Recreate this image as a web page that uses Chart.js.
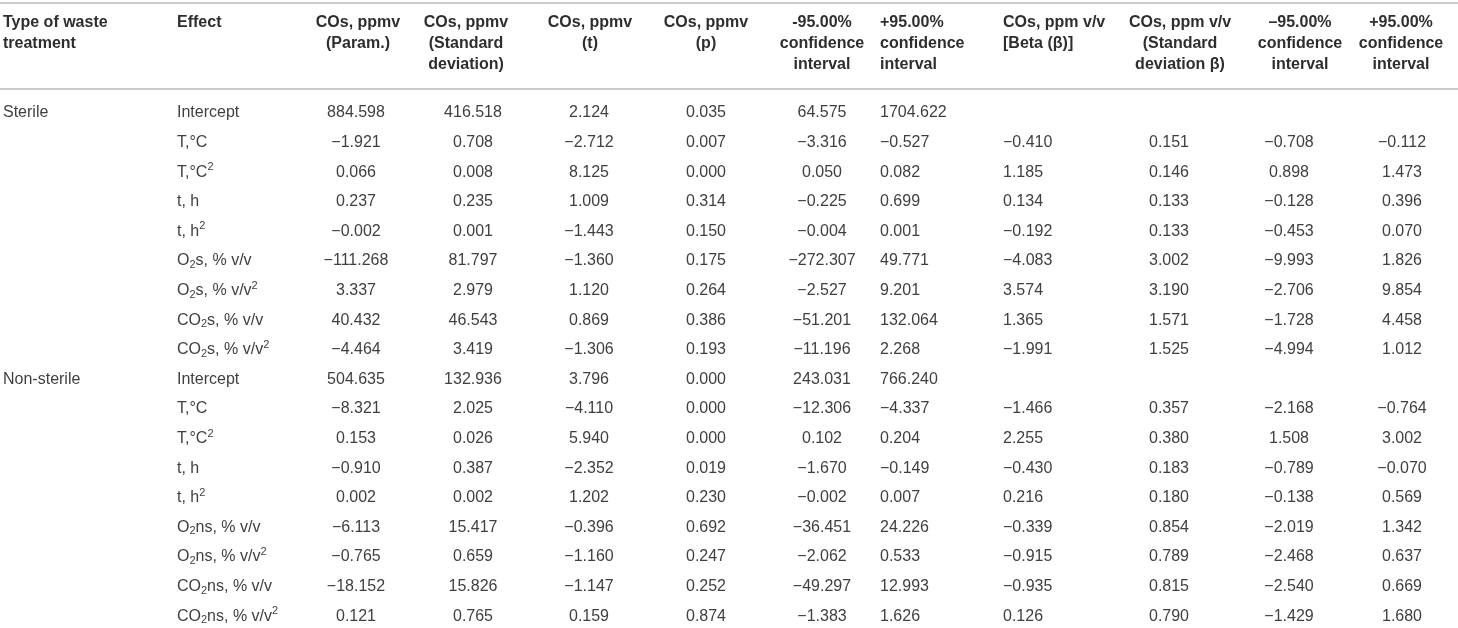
<!DOCTYPE html>
<html>
<head>
<meta charset="utf-8">
<title>CO regression table</title>
<script src="https://cdn.jsdelivr.net/npm/chart.js@4.4.1/dist/chart.umd.min.js"></script>
<style>
  html, body { margin: 0; padding: 0; background: #fff; }
  #wrap { width: 1458px; height: 628px; position: relative; }
</style>
</head>
<body>
<div id="wrap"><canvas id="tableChart"></canvas></div>
<script>
// Table content: one small array per column, 18 rows (9 sterile + 9 non-sterile)
const groups = ["Sterile", "Non-sterile"];
const groupStartRow = [0, 9];

// ^x = superscript, _x = subscript
const effects = [
  "Intercept", "T,°C", "T,°C^2", "t, h", "t, h^2",
  "O_2s, % v/v", "O_2s, % v/v^2", "CO_2s, % v/v", "CO_2s, % v/v^2",
  "Intercept", "T,°C", "T,°C^2", "t, h", "t, h^2",
  "O_2ns, % v/v", "O_2ns, % v/v^2", "CO_2ns, % v/v", "CO_2ns, % v/v^2"
];

const param    = [884.598, -1.921, 0.066, 0.237, -0.002, -111.268, 3.337, 40.432, -4.464,
                  504.635, -8.321, 0.153, -0.910, 0.002, -6.113, -0.765, -18.152, 0.121];
const stdDev   = [416.518, 0.708, 0.008, 0.235, 0.001, 81.797, 2.979, 46.543, 3.419,
                  132.936, 2.025, 0.026, 0.387, 0.002, 15.417, 0.659, 15.826, 0.765];
const tValue   = [2.124, -2.712, 8.125, 1.009, -1.443, -1.360, 1.120, 0.869, -1.306,
                  3.796, -4.110, 5.940, -2.352, 1.202, -0.396, -1.160, -1.147, 0.159];
const pValue   = [0.035, 0.007, 0.000, 0.314, 0.150, 0.175, 0.264, 0.386, 0.193,
                  0.000, 0.000, 0.000, 0.019, 0.230, 0.692, 0.247, 0.252, 0.874];
const ciLow    = [64.575, -3.316, 0.050, -0.225, -0.004, -272.307, -2.527, -51.201, -11.196,
                  243.031, -12.306, 0.102, -1.670, -0.002, -36.451, -2.062, -49.297, -1.383];
const ciHigh   = [1704.622, -0.527, 0.082, 0.699, 0.001, 49.771, 9.201, 132.064, 2.268,
                  766.240, -4.337, 0.204, -0.149, 0.007, 24.226, 0.533, 12.993, 1.626];
const beta     = [null, -0.410, 1.185, 0.134, -0.192, -4.083, 3.574, 1.365, -1.991,
                  null, -1.466, 2.255, -0.430, 0.216, -0.339, -0.915, -0.935, 0.126];
const betaStd  = [null, 0.151, 0.146, 0.133, 0.133, 3.002, 3.190, 1.571, 1.525,
                  null, 0.357, 0.380, 0.183, 0.180, 0.854, 0.789, 0.815, 0.790];
const betaLow  = [null, -0.708, 0.898, -0.128, -0.453, -9.993, -2.706, -1.728, -4.994,
                  null, -2.168, 1.508, -0.789, -0.138, -2.019, -2.468, -2.540, -1.429];
const betaHigh = [null, -0.112, 1.473, 0.396, 0.070, 1.826, 9.854, 4.458, 1.012,
                  null, -0.764, 3.002, -0.070, 0.569, 1.342, 0.637, 0.669, 1.680];

const headers = [
  ["Type of waste", "treatment"],
  ["Effect"],
  ["COs, ppmv", "(Param.)"],
  ["COs, ppmv", "(Standard", "deviation)"],
  ["COs, ppmv", "(t)"],
  ["COs, ppmv", "(p)"],
  ["-95.00%", "confidence", "interval"],
  ["+95.00%", "confidence", "interval"],
  ["COs, ppm v/v", "[Beta (β)]"],
  ["COs, ppm v/v", "(Standard", "deviation β)"],
  ["\u201395.00%", "confidence", "interval"],
  ["+95.00%", "confidence", "interval"]
];

// layout: column anchors in page px, rows in row units
const ROW_H = 29.6;
const FIRST_ROW_Y = 113;
const PAGE_H = 628;
const colX    = [3, 177, 356, 473, 589, 706, 822, 880, 1003, 1169, 1289, 1402];
const headX   = [3, 177, 358, 466, 590, 706, 822, 880, 1003, 1180, 1300, 1401];
const colAlign = ["left", "left", "center", "center", "center", "center", "center",
                  "left", "left", "center", "center", "center"];
const headerRowY = [-3.07, -2.35, -1.62];
const ruleRowY = [-3.72, -0.81];

const fmt = v => v.toFixed(3).replace("-", "\u2212");

const valueCols = [param, stdDev, tValue, pValue, ciLow, ciHigh, beta, betaStd, betaLow, betaHigh];

function cellPoints(colIndex) {
  const x = colX[colIndex];
  if (colIndex === 0) {
    return groups.map((g, i) => ({ x, y: groupStartRow[i], text: g }));
  }
  if (colIndex === 1) {
    return effects.map((e, i) => ({ x, y: i, text: e }));
  }
  const arr = valueCols[colIndex - 2];
  const pts = [];
  arr.forEach((v, i) => { if (v !== null) pts.push({ x, y: i, text: fmt(v) }); });
  return pts;
}

const datasets = colX.map((_, c) => ({
  label: headers[c].join(" "),
  data: cellPoints(c),
  align: colAlign[c],
  pointRadius: 0,
  pointHoverRadius: 0,
  showLine: false
}));

const BODY_FONT = '16px "Liberation Sans", Arial, Helvetica, sans-serif';
const SMALL_FONT = '11px "Liberation Sans", Arial, Helvetica, sans-serif';
const HEAD_FONT = 'bold 16px "Liberation Sans", Arial, Helvetica, sans-serif';

// split "O_2s, % v/v^2" into runs with sub/sup flags
function parseRich(str) {
  const runs = [];
  let buf = "";
  for (let i = 0; i < str.length; i++) {
    const ch = str[i];
    if ((ch === "^" || ch === "_") && i + 1 < str.length) {
      if (buf) { runs.push({ t: buf, mode: "n" }); buf = ""; }
      runs.push({ t: str[i + 1], mode: ch === "^" ? "sup" : "sub" });
      i++;
    } else {
      buf += ch;
    }
  }
  if (buf) runs.push({ t: buf, mode: "n" });
  return runs;
}

function drawRich(ctx, str, x, y, align) {
  const runs = parseRich(str);
  let total = 0;
  runs.forEach(r => {
    ctx.font = r.mode === "n" ? BODY_FONT : SMALL_FONT;
    r.w = ctx.measureText(r.t).width;
    total += r.w;
  });
  let cx = align === "center" ? x - total / 2 : x;
  ctx.textAlign = "left";
  runs.forEach(r => {
    ctx.font = r.mode === "n" ? BODY_FONT : SMALL_FONT;
    const dy = r.mode === "sup" ? -5 : r.mode === "sub" ? 4 : 0;
    ctx.fillText(r.t, cx, y + dy);
    cx += r.w;
  });
}

const tablePlugin = {
  id: "tablePlugin",
  afterDatasetsDraw(chart) {
    const ctx = chart.ctx;
    const xs = chart.scales.x, ys = chart.scales.y;
    ctx.save();

    // horizontal rules
    ctx.strokeStyle = "#cccccc";
    ctx.lineWidth = 2;
    ruleRowY.forEach(r => {
      const y = ys.getPixelForValue(r);
      ctx.beginPath();
      ctx.moveTo(chart.chartArea.left, y);
      ctx.lineTo(chart.chartArea.right, y);
      ctx.stroke();
    });

    // header
    ctx.fillStyle = "#2e2e2e";
    ctx.font = HEAD_FONT;
    ctx.textBaseline = "middle";
    headers.forEach((lines, c) => {
      ctx.textAlign = colAlign[c];
      const x = xs.getPixelForValue(headX[c]);
      lines.forEach((line, k) => {
        ctx.fillText(line, x, ys.getPixelForValue(headerRowY[k]));
      });
    });

    // body cells at the positions the scatter elements got from the scales
    ctx.fillStyle = "#3f3f3f";
    chart.data.datasets.forEach((ds, di) => {
      const meta = chart.getDatasetMeta(di);
      meta.data.forEach((el, i) => {
        drawRich(ctx, ds.data[i].text, el.x, el.y, ds.align);
      });
    });
    ctx.restore();
  }
};

new Chart(document.getElementById("tableChart"), {
  type: "scatter",
  data: { datasets },
  options: {
    responsive: true,
    maintainAspectRatio: false,
    animation: false,
    layout: { padding: 0 },
    scales: {
      x: { type: "linear", display: false, min: 0, max: 1458 },
      y: {
        type: "linear", display: false, reverse: true,
        min: -FIRST_ROW_Y / ROW_H,
        max: (PAGE_H - FIRST_ROW_Y) / ROW_H
      }
    },
    plugins: {
      legend: { display: false },
      tooltip: { enabled: false }
    },
    events: []
  },
  plugins: [tablePlugin]
});
</script>
</body>
</html>
